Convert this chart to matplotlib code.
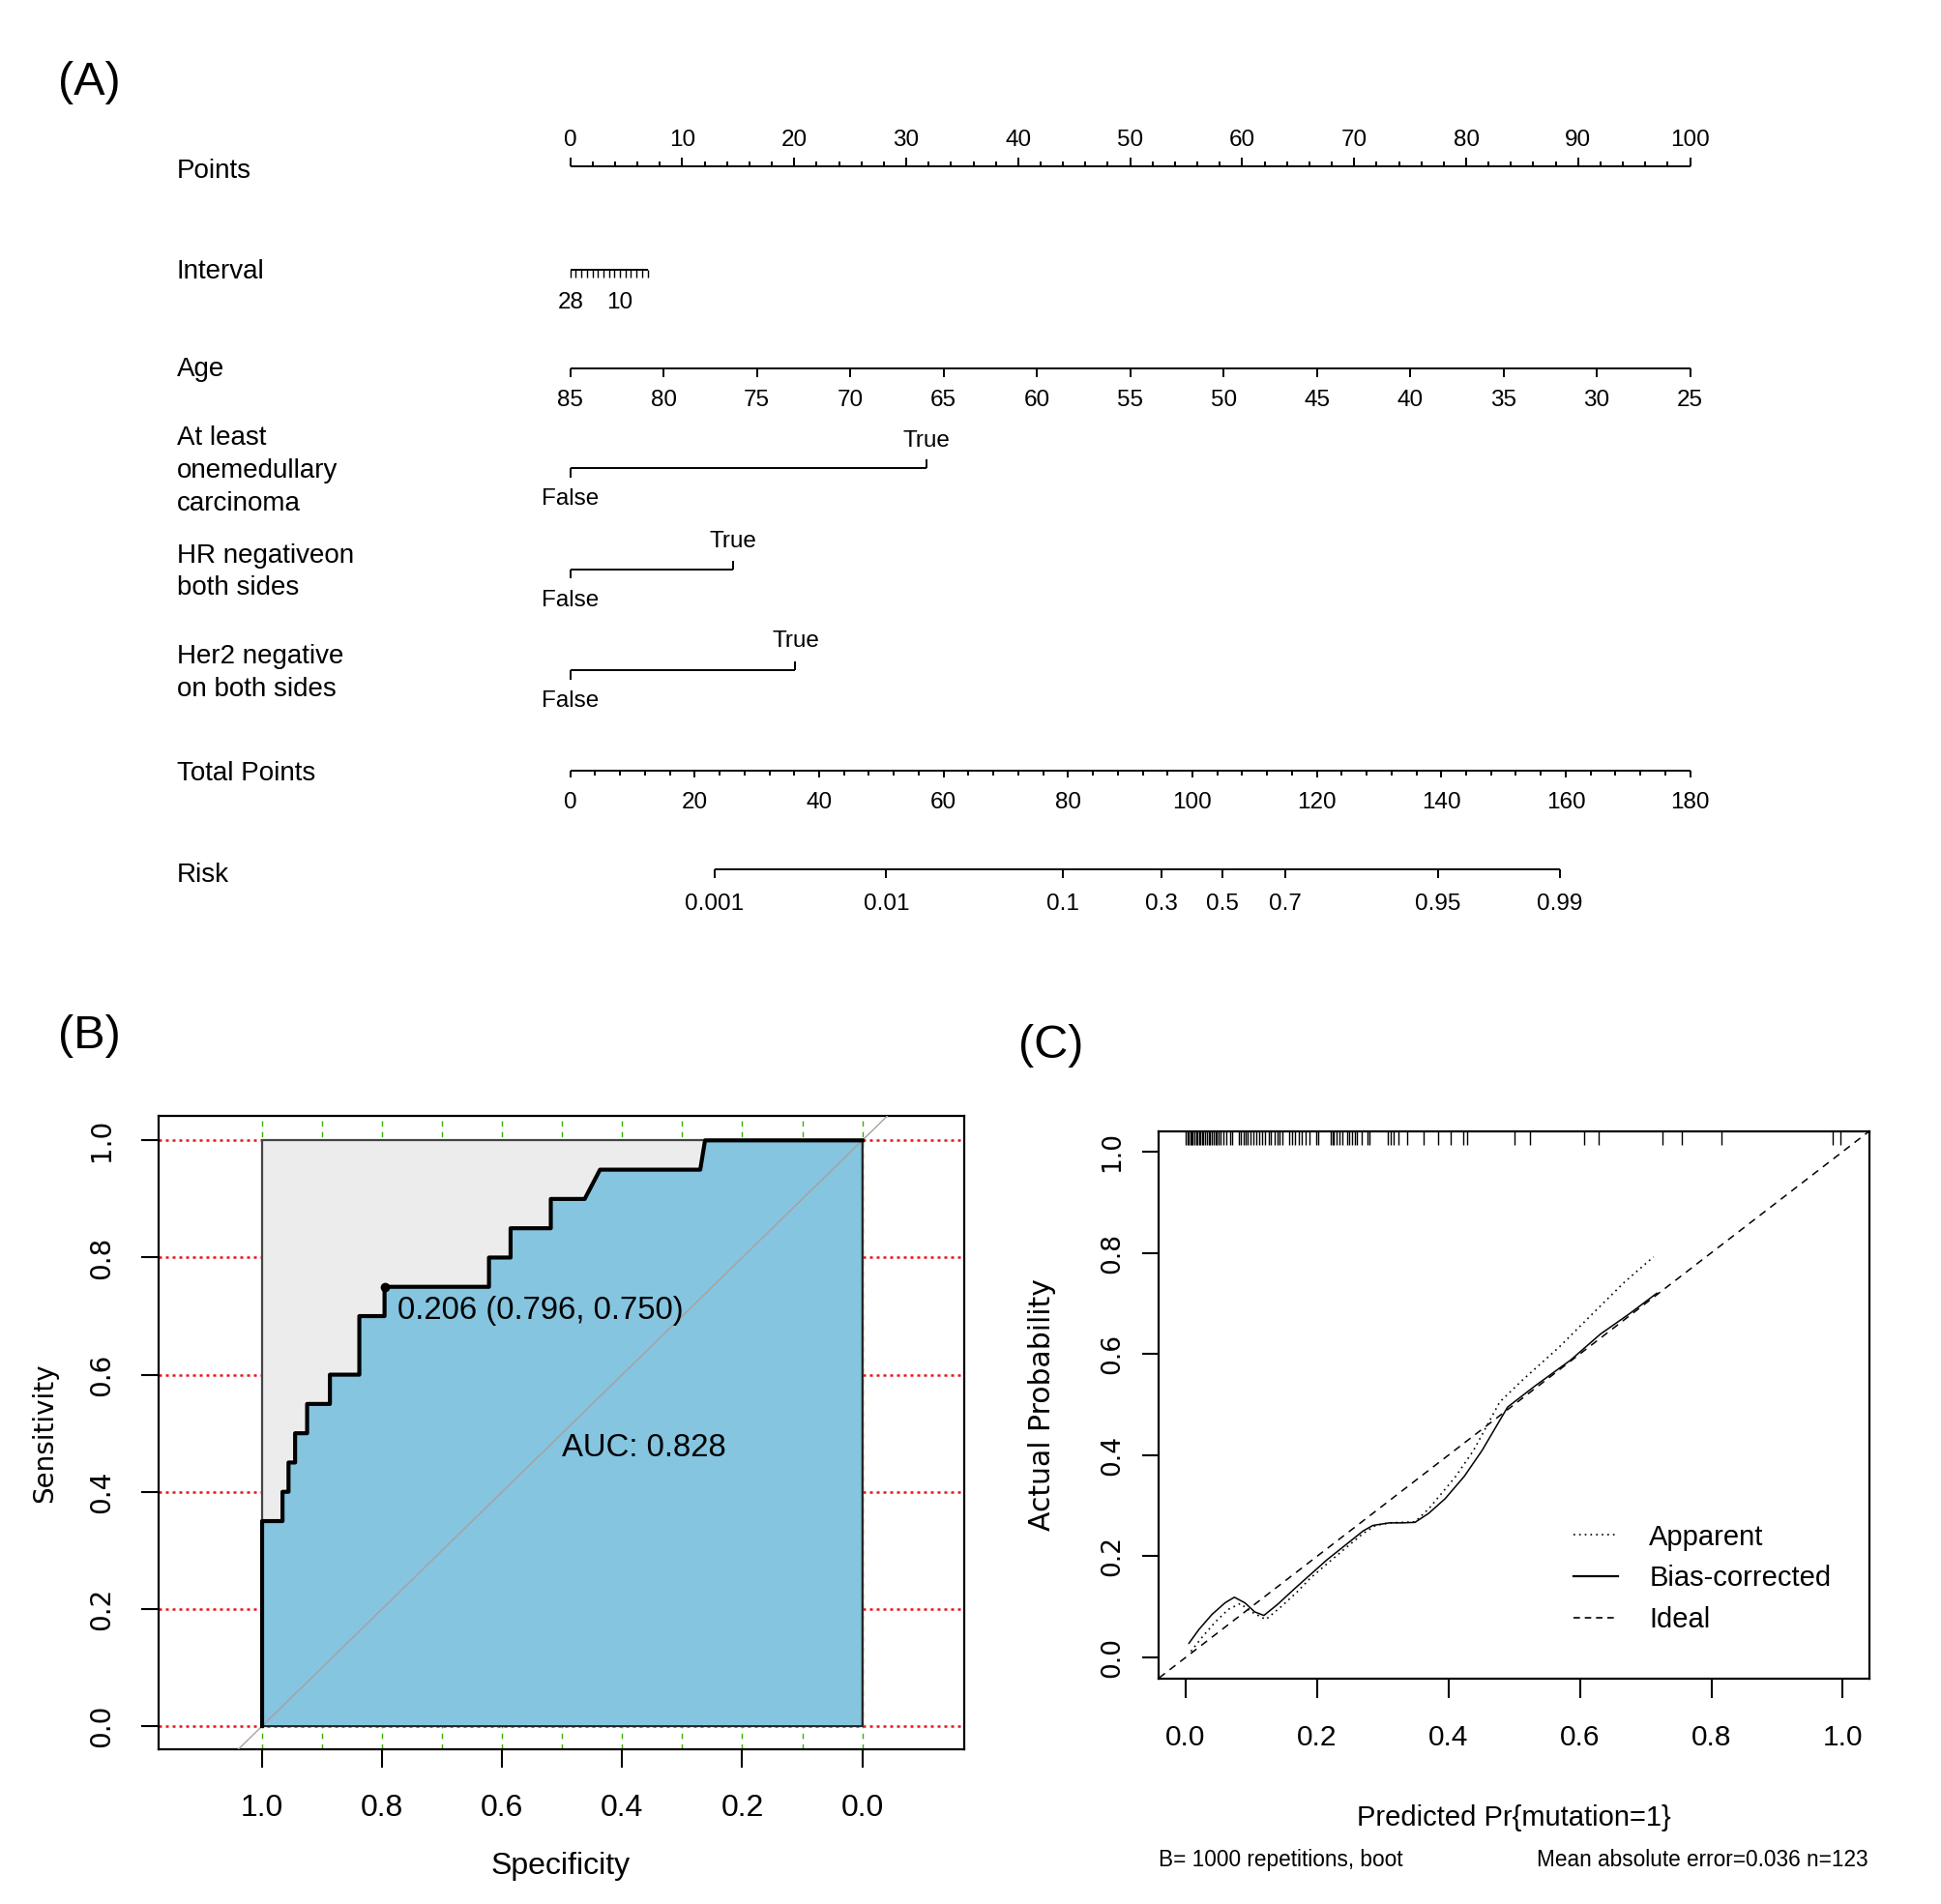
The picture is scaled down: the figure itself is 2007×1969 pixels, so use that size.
import matplotlib
matplotlib.use("Agg")
import matplotlib.pyplot as plt
import matplotlib.transforms as mtransforms
from matplotlib.patches import Polygon, Rectangle
from matplotlib.lines import Line2D

plt.rcParams["font.family"] = ["Liberation Sans", "DejaVu Sans"]

W, H = 2008, 1969

# ---------------- (A) nomogram data ----------------
points_ticks = list(range(0, 101, 10))
points_minor = list(range(0, 101, 2))
interval_vals = list(range(28, -1, -2))
interval_labels = [28, 10]
interval_pts_at_zero = 6.9        # points given for interval = 0 (28 -> 0 points)
age_vals = list(range(85, 24, -5))
medullary_true = 31.8
hr_true = 14.5
her2_true = 20.1
total_ticks = list(range(0, 181, 20))
total_minor = list(range(0, 181, 4))
risk_labels = ["0.001", "0.01", "0.1", "0.3", "0.5", "0.7", "0.95", "0.99"]
risk_total = [23.2, 50.8, 79.2, 95.0, 104.8, 114.9, 139.5, 159.1]

# ---------------- (B) ROC data ----------------
roc_spec = [1.0, 1.0, 0.966, 0.966, 0.956, 0.956, 0.945, 0.945, 0.925, 0.925,
            0.887, 0.887, 0.838, 0.838, 0.796, 0.796, 0.622, 0.622, 0.586, 0.586,
            0.519, 0.519, 0.4625, 0.437, 0.270, 0.262, 0.0]
roc_sens = [0.0, 0.35, 0.35, 0.40, 0.40, 0.45, 0.45, 0.50, 0.50, 0.55,
            0.55, 0.60, 0.60, 0.70, 0.70, 0.75, 0.75, 0.80, 0.80, 0.85,
            0.85, 0.90, 0.90, 0.95, 0.95, 1.0, 1.0]
best_thr, best_spec, best_sens = 0.206, 0.796, 0.750
auc = 0.828

# ---------------- (C) calibration data ----------------
rug_vals = [0.000, 0.003, 0.005, 0.007, 0.009, 0.011, 0.013, 0.016, 0.018, 0.020,
            0.022, 0.025, 0.027, 0.030, 0.032, 0.035, 0.037, 0.040, 0.042, 0.045,
            0.047, 0.050, 0.0525, 0.0574, 0.0623, 0.0672, 0.0711, 0.0809, 0.0844,
            0.0878, 0.0908, 0.0942, 0.0981, 0.1030, 0.1074, 0.1123, 0.1163, 0.1212,
            0.1261, 0.1295, 0.1359, 0.1398, 0.1433, 0.1467, 0.1580, 0.1614, 0.1663,
            0.1717, 0.1767, 0.1825, 0.1889, 0.1982, 0.2021, 0.2208, 0.2233, 0.2257,
            0.2291, 0.2341, 0.2380, 0.2453, 0.2488, 0.2527, 0.2571, 0.2600, 0.2684,
            0.2772, 0.2797, 0.3076, 0.3126, 0.3165, 0.3233, 0.3371, 0.3616, 0.3837,
            0.4033, 0.4220, 0.4279, 0.5004, 0.5235, 0.6069, 0.6280, 0.7261, 0.7556,
            0.8155, 0.9848, 0.9971]
bias_x = [0.005, 0.02, 0.04, 0.06, 0.074, 0.09, 0.105, 0.119, 0.14, 0.165, 0.19,
          0.215, 0.245, 0.27, 0.285, 0.31, 0.33, 0.349, 0.37, 0.395, 0.424, 0.451,
          0.49, 0.532, 0.586, 0.631, 0.676, 0.717]
bias_y = [0.028, 0.055, 0.085, 0.108, 0.119, 0.108, 0.090, 0.083, 0.105, 0.135, 0.164,
          0.193, 0.224, 0.250, 0.261, 0.266, 0.266, 0.267, 0.285, 0.314, 0.358, 0.409,
          0.495, 0.537, 0.588, 0.639, 0.680, 0.720]
app_x = [0.008, 0.025, 0.045, 0.065, 0.083, 0.10, 0.122, 0.145, 0.17, 0.19, 0.215,
         0.245, 0.27, 0.289, 0.31, 0.349, 0.37, 0.39, 0.411, 0.438, 0.478, 0.514,
         0.568, 0.622, 0.667, 0.712]
app_y = [0.012, 0.04, 0.07, 0.095, 0.1065, 0.09, 0.075, 0.10, 0.13, 0.157, 0.185,
         0.218, 0.245, 0.261, 0.266, 0.268, 0.294, 0.325, 0.358, 0.409, 0.505, 0.55,
         0.613, 0.683, 0.741, 0.792]

fig = plt.figure(figsize=(W / 100, H / 100), dpi=100)


def fx(px):
    return px / W


def fy(py):
    return 1 - py / H


# panel letters
fig.text(fx(92), fy(85), "(A)", fontsize=35, ha="center", va="center")
fig.text(fx(92), fy(1072), "(B)", fontsize=35, ha="center", va="center")
fig.text(fx(1087), fy(1082), "(C)", fontsize=35, ha="center", va="center")

# ================= (A) nomogram =================
ax_a = fig.add_axes([0, fy(1000), 1, 1000 / H])
ax_a.axis("off")
X0, PX_PER_PT = 589.7, 11.579
ax_a.set_xlim(-X0 / PX_PER_PT, (W - X0) / PX_PER_PT)
ax_a.set_ylim(1000, 0)
LW = 1.4
lab_x = (182.7 - X0) / PX_PER_PT
FS_LAB, FS_TCK = 20, 17.5


def hline(y, a, b):
    ax_a.plot([a, b], [y, y], color="black", lw=LW, solid_capstyle="butt")


def label(y, s):
    ax_a.text(lab_x, y, s, fontsize=FS_LAB, ha="left", va="center")


# Points
y = 171.7
hline(y, 0, 100)
ax_a.vlines(points_minor, y - 4.2, y, color="black", lw=LW)
ax_a.vlines(points_ticks, y - 8.4, y, color="black", lw=LW)
for v in points_ticks:
    ax_a.text(v, 145, str(v), fontsize=FS_TCK, ha="center", va="center")
label(177, "Points")

# Interval
y = 278.8
ipts = [(28 - v) * interval_pts_at_zero / 28 for v in interval_vals]
hline(y, min(ipts), max(ipts))
ax_a.vlines(ipts, y, y + 8, color="black", lw=1.0)
for v in interval_labels:
    ax_a.text((28 - v) * interval_pts_at_zero / 28, 313, str(v), fontsize=FS_TCK,
              ha="center", va="center")
label(281, "Interval")

# Age
y = 380.7
apts = [(85 - v) * 100 / 60 for v in age_vals]
hline(y, 0, 100)
ax_a.vlines(apts, y, y + 9.3, color="black", lw=LW)
for v, p in zip(age_vals, apts):
    ax_a.text(p, 414, str(v), fontsize=FS_TCK, ha="center", va="center")
label(381.7, "Age")


def cat_row(y_line, tpts, y_true, y_false):
    hline(y_line, 0, tpts)
    ax_a.vlines([0], y_line, y_line + 9.5, color="black", lw=LW)
    ax_a.vlines([tpts], y_line - 9.3, y_line, color="black", lw=LW)
    ax_a.text(tpts, y_true, "True", fontsize=FS_TCK, ha="center", va="center")
    ax_a.text(0, y_false, "False", fontsize=FS_TCK, ha="center", va="center")


cat_row(484.3, medullary_true, 456, 516)
for yy, s in zip([452.7, 487.3, 520.7], ["At least", "onemedullary", "carcinoma"]):
    label(yy, s)
cat_row(589, hr_true, 560, 620.7)
for yy, s in zip([575, 608.3], ["HR negativeon", "both sides"]):
    label(yy, s)
cat_row(693.3, her2_true, 663.3, 725)
for yy, s in zip([679.3, 712.7], ["Her2 negative", "on both sides"]):
    label(yy, s)

# Total points
y = 797.3
sc = 100 / 180
hline(y, 0, 100)
ax_a.vlines([v * sc for v in total_minor], y, y + 4.4, color="black", lw=LW)
ax_a.vlines([v * sc for v in total_ticks], y, y + 7.2, color="black", lw=LW)
for v in total_ticks:
    ax_a.text(v * sc, 830, str(v), fontsize=FS_TCK, ha="center", va="center")
label(800, "Total Points")

# Risk
y = 899.3
rp = [v * sc for v in risk_total]
hline(y, rp[0], rp[-1])
ax_a.vlines(rp, y, y + 9, color="black", lw=LW)
for s, p in zip(risk_labels, rp):
    ax_a.text(p, 935, s, fontsize=FS_TCK, ha="center", va="center")
label(905, "Risk")

# ================= (B) ROC =================
bl, br, bt, bb = 163.9, 996.8, 1154.3, 1809.3
ax_b = fig.add_axes([fx(bl), fy(bb), (br - bl) / W, (bb - bt) / H])
ax_b.set_xlim(1.1726, -0.1695)
ax_b.set_ylim(-0.0401, 1.0413)
for v in [0.0, 0.2, 0.4, 0.6, 0.8, 1.0]:
    ax_b.axhline(v, color="#e8141c", ls=(0, (1.2, 1.6)), lw=1.8, zorder=0)
for i in range(11):
    ax_b.axvline(i / 10, color="#3cb000", ls=(0, (4, 4)), lw=1.0, zorder=0)
ax_b.add_patch(Rectangle((0, 0), 1, 1, facecolor="#ECECEC", edgecolor="#444444",
                         lw=1.6, zorder=1))
poly = list(zip(roc_spec, roc_sens)) + [(0.0, 0.0)]
ax_b.add_patch(Polygon(poly, closed=True, facecolor="#85C5E0", edgecolor="#222222",
                       lw=1.3, zorder=2))
ax_b.axline((1, 0), (0, 1), color="#ab9f9c", lw=1.0, zorder=3)
ax_b.plot(roc_spec, roc_sens, color="black", lw=3.0, zorder=4)
ax_b.plot([best_spec], [best_sens], "o", color="black", ms=6, zorder=5)
ax_b.annotate(f"{best_thr:.3f} ({best_spec:.3f}, {best_sens:.3f})",
              xy=(best_spec, best_sens), xytext=(9.6, -6.7), textcoords="offset points",
              ha="left", va="top", fontsize=23.7, zorder=6)
ax_b.text(0.5, 0.5, f"AUC: {auc:.3f}", ha="left", va="top", fontsize=23.7, zorder=6)

bticks = [1.0, 0.8, 0.6, 0.4, 0.2, 0.0]
ax_b.set_xticks(bticks)
ax_b.set_xticklabels([f"{v:.1f}" for v in bticks], fontsize=23)
yt = [0.0, 0.2, 0.4, 0.6, 0.8, 1.0]
ax_b.set_yticks(yt)
ax_b.set_yticklabels([f"{v:.1f}" for v in yt], rotation=90, va="center",
                     fontsize=20, family="DejaVu Sans")
ax_b.tick_params(axis="x", length=13.7, width=1.5, pad=19)
ax_b.tick_params(axis="y", length=13.3, width=1.5, pad=19)
for s in ax_b.spines.values():
    s.set_linewidth(1.6)
fig.text(fx(580), fy(1930), "Specificity", fontsize=23, ha="center", va="center")
fig.text(fx(46), fy(1482), "Sensitivity", fontsize=20, family="DejaVu Sans",
         rotation=90, ha="center", va="center")

# ================= (C) calibration =================
cl, cr, ct, cb = 1198.5, 1932.9, 1170.0, 1735.7
ax_c = fig.add_axes([fx(cl), fy(cb), (cr - cl) / W, (cb - ct) / H])
ax_c.set_xlim(-0.0405, 1.0405)
ax_c.set_ylim(-0.0415, 1.040)
trans = mtransforms.blended_transform_factory(ax_c.transData, ax_c.transAxes)
ax_c.vlines(rug_vals, 1 - 14 / (cb - ct), 1, transform=trans, color="black", lw=1.0)
ax_c.axline((0, 0), (1, 1), color="black", lw=1.1, ls=(0, (5, 4)))
ax_c.plot(app_x, app_y, color="black", lw=1.2, ls=(0, (1, 2.5)))
ax_c.plot(bias_x, bias_y, color="black", lw=1.1)
cticks = [0.0, 0.2, 0.4, 0.6, 0.8, 1.0]
ax_c.set_xticks(cticks)
ax_c.set_xticklabels([f"{v:.1f}" for v in cticks], fontsize=21.5)
ax_c.set_yticks(cticks)
ax_c.set_yticklabels([f"{v:.1f}" for v in cticks], rotation=90, va="center",
                     fontsize=19, family="DejaVu Sans")
ax_c.tick_params(axis="x", length=14.4, width=1.5, pad=20)
ax_c.tick_params(axis="y", length=12.2, width=1.5, pad=13.5)
for s in ax_c.spines.values():
    s.set_linewidth(1.6)
handles = [Line2D([], [], color="black", lw=1.2, ls=(0, (1, 2.5))),
           Line2D([], [], color="black", lw=1.6),
           Line2D([], [], color="black", lw=1.2, ls=(0, (4, 3)))]
ax_c.legend(handles, ["Apparent", "Bias-corrected", "Ideal"], loc="upper left",
            bbox_to_anchor=(0.583, 0.283), frameon=False, fontsize=21,
            handlelength=1.58, handletextpad=1.12, labelspacing=0.5,
            borderpad=0, borderaxespad=0)
fig.text(fx(1565.7), fy(1880), "Predicted Pr{mutation=1}", fontsize=21,
         ha="center", va="center")
fig.text(fx(1078), fy(1453), "Actual Probability", fontsize=21.5,
         family="DejaVu Sans", rotation=90, ha="center", va="center")
fig.text(fx(cl), fy(1923), "B= 1000 repetitions, boot", fontsize=16.3,
         ha="left", va="center")
fig.text(fx(1931.6), fy(1923), "Mean absolute error=0.036 n=123", fontsize=16.3,
         ha="right", va="center")

fig.savefig("out.png", dpi=100)
